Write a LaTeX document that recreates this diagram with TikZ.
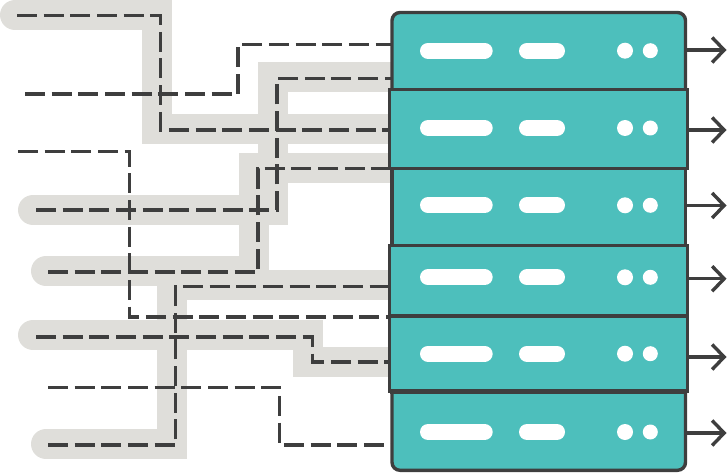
\documentclass[tikz,border=0pt]{standalone}
\usepackage[dvipsnames]{xcolor}
\usetikzlibrary{arrows.meta,backgrounds}
\definecolor{rackteal}{HTML}{4DBFBC}
\definecolor{laneband}{HTML}{DFDEDA}
\definecolor{wiredark}{HTML}{3E3E3E}
\tikzset{
	rack/.style={draw=wiredark,fill=rackteal,line width=3.4pt,inner sep=0,outer sep=0},
	wide/.style={minimum width=297.8pt},
	narrow/.style={minimum width=293.5pt},
	band/.style={draw=laneband,line width=30pt,line cap=round},
	wire/.style={draw=wiredark,line width=3.4pt,dash pattern=on 20pt off 6.67pt},
	outlet/.style={draw=wiredark,line width=3.4pt,-{Straight Barb[length=12pt,width=25pt,line width=3.4pt]}},
	pill/.style={draw=white,line width=16pt,line cap=round}
}
\begin{document}
\begin{tikzpicture}[x=1pt,y=-1pt]
				\useasboundingbox (0,0) rectangle (727,473);
				\node [rack,narrow,rounded corners=8pt,minimum height=97pt] (rackA) at (538.75,61) {};
				\node [rack,narrow,rounded corners=8pt,minimum height=100pt] (rackF) at (538.75,420.3) {};
				\node [rack,narrow,minimum height=90pt] (rackC) at (538.75,205) {};
				\node [rack,wide,line width=3pt,minimum height=78pt] (rackB) at (538.4,129) {};
				\node [rack,wide,line width=3pt,minimum height=71pt] (rackD) at (538.4,280.8) {};
				\node [rack,wide,minimum height=75.5pt] (rackE) at (538.4,353.8) {};
				\draw [draw=wiredark,line width=5pt] (rackE.south west) -- (rackE.south east);
				\draw [pill] (428,50.7) -- (484.7,50.7);
				\draw [pill] (527,50.7) -- (557,50.7);
				\fill [white] (625,50.7) circle (8pt);
				\fill [white] (650.3,50.7) circle (7.5pt);
				\draw [pill] (428,128) -- (484.7,128);
				\draw [pill] (527,128) -- (557,128);
				\fill [white] (625,128) circle (8pt);
				\fill [white] (650.3,128) circle (7.5pt);
				\draw [pill] (428,205.3) -- (484.7,205.3);
				\draw [pill] (527,205.3) -- (557,205.3);
				\fill [white] (625,205.3) circle (8pt);
				\fill [white] (650.3,205.3) circle (7.5pt);
				\draw [pill] (428,277.3) -- (484.7,277.3);
				\draw [pill] (527,277.3) -- (557,277.3);
				\fill [white] (625,277.3) circle (8pt);
				\fill [white] (650.3,277.3) circle (7.5pt);
				\draw [pill] (428,353.7) -- (484.7,353.7);
				\draw [pill] (527,353.7) -- (557,353.7);
				\fill [white] (625,353.7) circle (8pt);
				\fill [white] (650.3,353.7) circle (7.5pt);
				\draw [pill] (428,432) -- (484.7,432);
				\draw [pill] (527,432) -- (557,432);
				\fill [white] (625,432) circle (8pt);
				\fill [white] (650.3,432) circle (7.5pt);
				\coordinate (outA) at (726.5,50);
				\coordinate (outB) at (726.5,130);
				\coordinate (outC) at (726.5,205.5);
				\coordinate (outD) at (726.5,278.7);
				\coordinate (outE) at (726.5,357);
				\coordinate (outF) at (726.5,433);
				\draw [outlet] (outA -| rackA.east) -- (outA);
				\draw [outlet] (outB -| rackB.east) -- (outB);
				\draw [outlet] (outC -| rackC.east) -- (outC);
				\draw [outlet] (outD -| rackD.east) -- (outD);
				\draw [outlet] (outE -| rackE.east) -- (outE);
				\draw [outlet] (outF -| rackF.east) -- (outF);
				\begin{scope}[on background layer]
				\coordinate (bandA) at (15,15);
				\coordinate (bandB) at (33,210);
				\coordinate (bandC) at (46,271);
				\coordinate (bandD) at (46,444);
				\coordinate (bandE) at (33,335);
				\draw [band] (bandA) -- (157,15) -- (157,129) -- (157,129 -| rackB.center);
				\draw [band] (bandB) -- (273,210) -- (273,77) -- (273,77 -| rackA.center);
				\draw [band] (bandC) -- (254,271) -- (254,168) -- (254,168 -| rackC.center);
				\draw [band] (bandD) -- (172,444) -- (172,285) -- (172,285 -| rackD.center);
				\draw [band] (bandE) -- (308,335) -- (308,362) -- (308,362 -| rackE.center);
				\coordinate (wireA) at (17,15.3);
				\coordinate (wireB) at (25,94);
				\coordinate (wireC) at (36,210);
				\coordinate (wireD) at (18,151.5);
				\coordinate (wireE) at (48,272);
				\coordinate (wireF) at (48,445);
				\coordinate (wireG) at (36,337);
				\coordinate (wireH) at (48,387.5);
				\draw [wire] (wireA) -- (160.5,15.3) -- (160.5,130) -- (160.5,130 -| rackB.west);
				\draw [wire] (wireB) -- (238,94) -- (238,44.5) -- (238,44.5 -| rackA.west);
				\draw [wire] (wireC) -- (277,210) -- (277,78.7) -- (277,78.7 -| rackA.west);
				\draw [wire] (wireD) -- (129.5,151.5) -- (129.5,317) -- (129.5,317 -| rackE.west);
				\draw [wire] (wireE) -- (258,272) -- (258,168.7) -- (258,168.7 -| rackB.west);
				\draw [wire] (wireF) -- (175.7,445) -- (175.7,286.5) -- (175.7,286.5 -| rackD.west);
				\draw [wire] (wireG) -- (312.7,337) -- (312.7,362) -- (312.7,362 -| rackE.west);
				\draw [wire] (wireH) -- (279.7,387.5) -- (279.7,445) -- (279.7,445 -| rackF.west);
				\end{scope}
				\end{tikzpicture}
\end{document}
